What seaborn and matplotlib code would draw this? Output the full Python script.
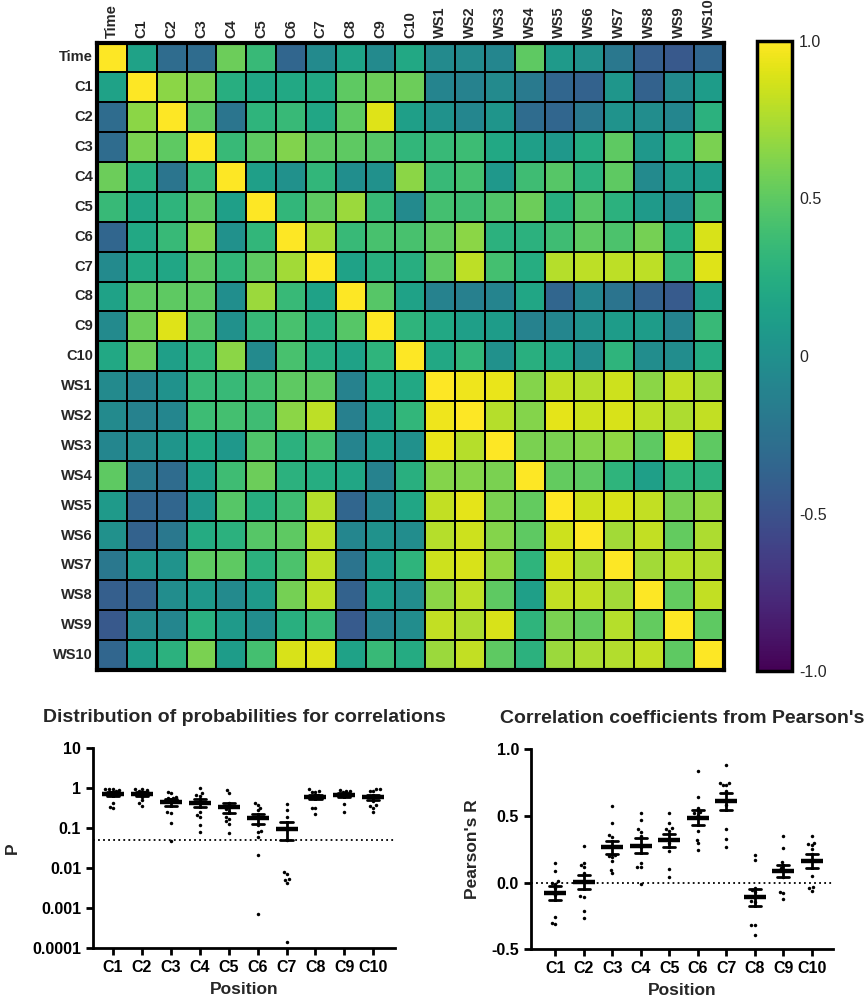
import numpy as np
import pandas as pd
import matplotlib
matplotlib.use("Agg")
import matplotlib.pyplot as plt
import seaborn as sns

sns.set_style("white")
plt.rcParams["font.family"] = ["Liberation Sans", "DejaVu Sans"]

# ---------------- heatmap data ----------------
labels = ["Time", "C1", "C2", "C3", "C4", "C5", "C6", "C7", "C8", "C9", "C10",
          "WS1", "WS2", "WS3", "WS4", "WS5", "WS6", "WS7", "WS8", "WS9", "WS10"]

# lower triangle (row i, columns 0..i-1); diagonal = 1
lower_rows = [
    [0.15],
    [-0.30, 0.65],
    [-0.30, 0.60, 0.50],
    [0.55, 0.25, -0.22, 0.35],
    [0.35, 0.18, 0.30, 0.50, 0.12],
    [-0.35, 0.20, 0.35, 0.62, 0.00, 0.32],
    [-0.05, 0.20, 0.18, 0.50, 0.32, 0.50, 0.72],
    [0.15, 0.50, 0.50, 0.50, -0.02, 0.70, 0.35, 0.15],
    [-0.05, 0.55, 0.90, 0.47, 0.00, 0.35, 0.42, 0.26, 0.47],
    [0.20, 0.55, 0.12, 0.32, 0.65, -0.05, 0.42, 0.25, 0.15, 0.30],
    [-0.05, -0.10, 0.02, 0.35, 0.35, 0.40, 0.50, 0.50, -0.12, 0.20, 0.20],
    [-0.05, -0.12, -0.08, 0.37, 0.40, 0.38, 0.65, 0.80, -0.14, 0.12, 0.32, 0.95],
    [-0.08, -0.05, 0.04, 0.20, 0.07, 0.45, 0.28, 0.40, -0.10, 0.10, 0.00, 0.93, 0.78],
    [0.50, -0.18, -0.30, 0.12, 0.38, 0.55, 0.28, 0.24, 0.18, -0.12, 0.26, 0.63, 0.63, 0.60],
    [0.08, -0.35, -0.35, 0.07, 0.47, 0.25, 0.38, 0.78, -0.35, -0.08, 0.18, 0.82, 0.92, 0.60, 0.52],
    [0.00, -0.38, -0.20, 0.22, 0.28, 0.47, 0.50, 0.80, -0.08, 0.02, -0.03, 0.78, 0.85, 0.63, 0.50, 0.85],
    [-0.20, 0.05, 0.03, 0.50, 0.50, 0.28, 0.43, 0.80, -0.23, 0.10, 0.30, 0.85, 0.88, 0.67, 0.30, 0.88, 0.72],
    [-0.40, -0.38, -0.03, 0.07, -0.05, 0.08, 0.58, 0.80, -0.38, 0.10, -0.03, 0.65, 0.80, 0.50, 0.12, 0.82, 0.82, 0.72],
    [-0.45, -0.05, -0.08, 0.27, 0.08, -0.03, 0.26, 0.35, -0.43, -0.10, -0.03, 0.82, 0.75, 0.88, 0.30, 0.60, 0.52, 0.78, 0.52],
    [-0.35, 0.10, 0.28, 0.60, 0.10, 0.40, 0.88, 0.90, 0.15, 0.35, 0.22, 0.70, 0.82, 0.50, 0.28, 0.70, 0.75, 0.77, 0.82, 0.50],
]

n = len(labels)
corr = np.eye(n)
for i, row in enumerate(lower_rows, start=1):
    corr[i, :i] = row
    corr[:i, i] = row
corr_df = pd.DataFrame(corr, index=labels, columns=labels)

# ---------------- scatter data ----------------
positions = ["C1", "C2", "C3", "C4", "C5", "C6", "C7", "C8", "C9", "C10"]

p_values = [
    [0.98, 0.97, 0.95, 0.90, 0.85, 0.80, 0.75, 0.42, 0.35, 0.32],
    [0.97, 0.95, 0.92, 0.88, 0.82, 0.75, 0.62, 0.50, 0.42, 0.37],
    [0.82, 0.75, 0.62, 0.58, 0.56, 0.49, 0.26, 0.24, 0.133, 0.049],
    [0.99, 0.75, 0.68, 0.64, 0.42, 0.25, 0.22, 0.19, 0.12, 0.08],
    [0.89, 0.75, 0.42, 0.30, 0.26, 0.19, 0.17, 0.15, 0.13, 0.078],
    [0.43, 0.38, 0.32, 0.28, 0.12, 0.087, 0.08, 0.059, 0.022, 0.0007],
    [0.41, 0.29, 0.19, 0.05, 0.0083, 0.0072, 0.0055, 0.0052, 0.0043, 0.00014],
    [0.94, 0.85, 0.82, 0.82, 0.68, 0.62, 0.60, 0.32, 0.32, 0.23],
    [0.89, 0.85, 0.85, 0.79, 0.73, 0.68, 0.67, 0.66, 0.41, 0.26],
    [0.96, 0.94, 0.87, 0.85, 0.64, 0.49, 0.38, 0.36, 0.33, 0.26],
]

r_values = [
    [0.15, 0.09, 0.01, 0.00, -0.01, -0.04, -0.09, -0.26, -0.30, -0.31],
    [0.275, 0.145, 0.13, 0.115, 0.07, 0.01, -0.10, -0.11, -0.21, -0.265],
    [0.575, 0.45, 0.355, 0.34, 0.21, 0.20, 0.19, 0.16, 0.095, 0.07],
    [0.52, 0.47, 0.40, 0.38, 0.35, 0.27, 0.15, 0.12, 0.115, -0.01],
    [0.52, 0.45, 0.41, 0.40, 0.33, 0.30, 0.24, 0.105, 0.04, 0.39],
    [0.84, 0.645, 0.56, 0.53, 0.52, 0.51, 0.39, 0.32, 0.295, 0.245],
    [0.88, 0.75, 0.745, 0.73, 0.73, 0.69, 0.58, 0.40, 0.33, 0.265],
    [0.21, 0.17, -0.04, -0.055, -0.07, -0.14, -0.145, -0.32, -0.32, -0.39],
    [0.35, 0.26, 0.155, 0.13, 0.11, 0.09, 0.04, -0.07, -0.08, -0.12],
    [0.35, 0.30, 0.29, 0.28, 0.25, 0.215, 0.05, -0.03, -0.04, -0.06],
]

p_df = pd.DataFrame([(pos, v) for pos, vals in zip(positions, p_values) for v in vals],
                    columns=["Position", "P"])
r_df = pd.DataFrame([(pos, v) for pos, vals in zip(positions, r_values) for v in vals],
                    columns=["Position", "R"])

# ---------------- figure ----------------
W, H = 865, 1002
fig = plt.figure(figsize=(W / 100, H / 100), dpi=100)


def rect(left, top, right, bottom):
    return [left / W, 1 - bottom / H, (right - left) / W, (bottom - top) / H]


ax_hm = fig.add_axes(rect(97, 42.5, 723.5, 670))
cax = fig.add_axes(rect(757, 41, 792, 671))

narrow = ["Liberation Sans Narrow", "Liberation Sans", "DejaVu Sans"]

sns.heatmap(corr_df, ax=ax_hm, cmap="viridis", vmin=-1, vmax=1,
            linewidths=1.3, linecolor="black", cbar_ax=cax)
ax_hm.xaxis.tick_top()
ax_hm.set_xticklabels(labels, rotation=90, fontweight="bold", fontsize=10.5,
                      family=narrow)
ax_hm.set_yticklabels(labels, rotation=0, fontweight="bold", fontsize=10.5,
                      family=narrow)
ax_hm.tick_params(axis="both", length=0, pad=3)
ax_hm.set_xlabel("")
ax_hm.set_ylabel("")
for s in ax_hm.spines.values():
    s.set_visible(True)
    s.set_linewidth(3)
    s.set_color("black")

cbar = ax_hm.collections[0].colorbar
cbar.outline.set_linewidth(2.5)
cbar.outline.set_edgecolor("black")
cbar.set_ticks([-1, -0.5, 0, 0.5, 1])
cbar.set_ticklabels(["-1.0", "-0.5", "0", "0.5", "1.0"])
cax.tick_params(direction="in", length=5, width=2, left=True, right=True,
                labelleft=False, labelright=True, labelsize=11.5, pad=5)

# ---------------- scatter plots ----------------
ax_p = fig.add_axes(rect(93, 748.3, 395, 948.3))
ax_r = fig.add_axes(rect(530.7, 749.3, 833, 949.3))

for ax, df, col in [(ax_p, p_df, "P"), (ax_r, r_df, "R")]:
    sns.pointplot(data=df, x="Position", y=col, order=positions, ax=ax,
                  errorbar="se", color="black", marker="_", markersize=16,
                  markeredgewidth=3.2, linestyle="none", capsize=0.42,
                  err_kws={"linewidth": 2})
    sns.swarmplot(data=df, x="Position", y=col, order=positions, ax=ax,
                  color="black", size=2.5)

ax_p.set_yscale("log")
ax_p.set_ylim(1e-4, 10)
ax_p.set_yticks([1e-4, 1e-3, 1e-2, 1e-1, 1, 10])
ax_p.set_yticklabels(["0.0001", "0.001", "0.01", "0.1", "1", "10"])
ax_p.minorticks_off()
ax_p.set_xlim(-0.69, 9.75)
ax_p.axhline(0.05, color="black", linewidth=1.3, linestyle=(0, (1, 1.8)), zorder=0)
ax_p.set_ylabel("P", fontweight="bold", fontsize=12.5, labelpad=9)
ax_p.set_title("Distribution of probabilities for correlations",
               fontweight="bold", fontsize=14, pad=19)

ax_r.set_ylim(-0.5, 1.0)
ax_r.set_yticks([-0.5, 0.0, 0.5, 1.0])
ax_r.set_yticklabels(["-0.5", "0.0", "0.5", "1.0"])
ax_r.set_xlim(-0.86, 9.75)
ax_r.axhline(0.0, color="black", linewidth=1.3, linestyle=(0, (1, 1.8)), zorder=0)
ax_r.set_ylabel("Pearson's R", fontweight="bold", fontsize=12.5, labelpad=8)
ax_r.set_title("Correlation coefficients from Pearson's",
               fontweight="bold", fontsize=14, pad=19)

for ax in (ax_p, ax_r):
    ax.set_xlabel("Position", fontweight="bold", fontsize=12.5, labelpad=5)
    for side in ("top", "right"):
        ax.spines[side].set_visible(False)
    for side in ("left", "bottom"):
        ax.spines[side].set_linewidth(2)
        ax.spines[side].set_color("black")
    ax.tick_params(axis="both", direction="out", length=5, width=2,
                   colors="black", labelsize=11.5, left=True, bottom=True)
    for lab in ax.get_xticklabels() + ax.get_yticklabels():
        lab.set_fontweight("bold")

fig.savefig("out.png", dpi=100)
